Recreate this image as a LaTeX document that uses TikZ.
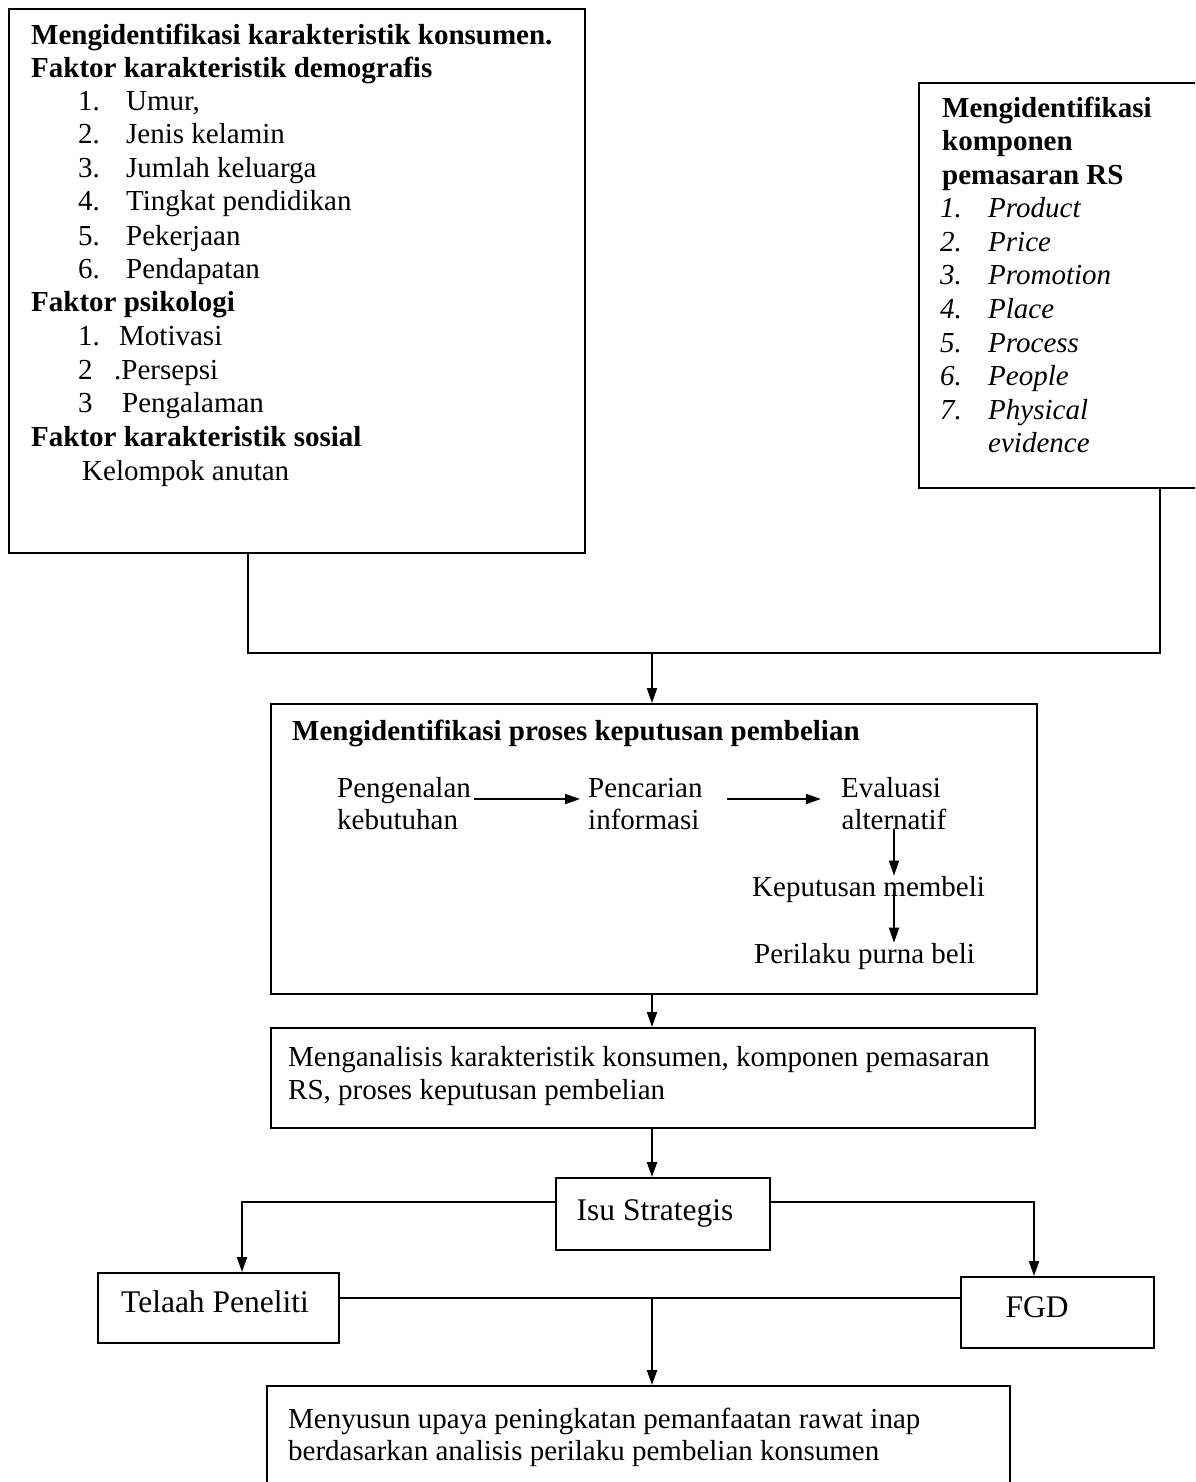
\documentclass[tikz,border=0pt]{standalone}
\usepackage{fontspec}
\setmainfont{Liberation Serif}
\usetikzlibrary{arrows.meta}
\newcommand\fs{\fontsize{29}{33.5}\selectfont}
\newcommand\fsb{\fontsize{31.5}{36}\selectfont}
\tikzset{
  box/.style={draw, line width=2pt, inner sep=0pt, anchor=north west},
  lbl/.style={anchor=base west, inner sep=0pt, font=\fs},
  clbl/.style={anchor=base, inner sep=0pt, font=\fs},
  blbl/.style={anchor=base, inner sep=0pt, font=\fsb},
  ln/.style={line width=2pt},
  arr/.style={line width=2pt, -{Triangle[length=15pt,width=10pt]}},
}
\begin{document}
\begin{tikzpicture}[x=1pt,y=-1pt]
\clip (0,0) rectangle (1195,1482);
\fill[white] (0,0) rectangle (1195,1482);

% boxes
\node[box, minimum width=576pt, minimum height=544pt] (b1) at (8,8) {};
\node[box, minimum width=282pt, minimum height=405pt] (b2) at (918,82) {};
\node[box, minimum width=766pt, minimum height=290pt] (b3) at (270,703) {};
\node[box, minimum width=764pt, minimum height=100pt] (b4) at (270,1027) {};
\node[box, minimum width=214pt, minimum height=72pt] (isu) at (555,1177) {};
\node[box, minimum width=241pt, minimum height=70pt] (tel) at (97,1272) {};
\node[box, minimum width=193pt, minimum height=71pt] (fgd) at (960,1276) {};
\node[box, minimum width=743pt, minimum height=120pt] (bot) at (266,1385) {};

% box 1 text
\node[lbl] (a1) at (31,45) {\textbf{Mengidentifikasi karakteristik konsumen.}};
\node[lbl] (a2) at (31,78) {\textbf{Faktor karakteristik demografis}};
\node[lbl] (a3n) at (78,111) {1.};  \node[lbl] (a3) at (126,111) {Umur,};
\node[lbl] (a4n) at (78,144) {2.};  \node[lbl] (a4) at (126,144) {Jenis kelamin};
\node[lbl] (a5n) at (78,178) {3.};  \node[lbl] (a5) at (126,178) {Jumlah keluarga};
\node[lbl] (a6n) at (78,211) {4.};  \node[lbl] (a6) at (126,211) {Tingkat pendidikan};
\node[lbl] (a7n) at (78,245) {5.};  \node[lbl] (a7) at (126,245) {Pekerjaan};
\node[lbl] (a8n) at (78,278) {6.};  \node[lbl] (a8) at (126,278) {Pendapatan};
\node[lbl] (a9) at (31,311) {\textbf{Faktor psikologi}};
\node[lbl] (a10n) at (78,345) {1.}; \node[lbl] (a10) at (119,345) {Motivasi};
\node[lbl] (a11n) at (78,379) {2};  \node[lbl] (a11) at (114,379) {.Persepsi};
\node[lbl] (a12n) at (78,412) {3};  \node[lbl] (a12) at (122,412) {Pengalaman};
\node[lbl] (a13) at (31,446) {\textbf{Faktor karakteristik sosial}};
\node[lbl] (a14) at (82,480) {Kelompok anutan};

% box 2 text
\node[lbl] (c1) at (942,118) {\textbf{Mengidentifikasi}};
\node[lbl] (c2) at (942,151) {\textbf{komponen}};
\node[lbl] (c3) at (942,185) {\textbf{pemasaran RS}};
\node[lbl] (c4n) at (940,217) {\textit{1.}};  \node[lbl] (c4) at (988,217) {\textit{Product}};
\node[lbl] (c5n) at (940,251) {\textit{2.}};  \node[lbl] (c5) at (988,251) {\textit{Price}};
\node[lbl] (c6n) at (940,284) {\textit{3.}};  \node[lbl] (c6) at (988,284) {\textit{Promotion}};
\node[lbl] (c7n) at (940,318) {\textit{4.}};  \node[lbl] (c7) at (988,318) {\textit{Place}};
\node[lbl] (c8n) at (940,352) {\textit{5.}};  \node[lbl] (c8) at (988,352) {\textit{Process}};
\node[lbl] (c9n) at (940,385) {\textit{6.}};  \node[lbl] (c9) at (988,385) {\textit{People}};
\node[lbl] (c10n) at (940,419) {\textit{7.}}; \node[lbl] (c10) at (988,419) {\textit{Physical}};
\node[lbl] (c11) at (988,452) {\textit{evidence}};

% box 3 text
\node[lbl] (t3) at (292,740) {\textbf{Mengidentifikasi proses keputusan pembelian}};
\node[lbl] (pk1) at (337,797) {Pengenalan};
\node[lbl] (pk2) at (337,829) {kebutuhan};
\node[lbl] (pc1) at (588,797) {Pencarian};
\node[lbl] (pc2) at (588,829) {informasi};
\node[clbl] (ev1) at (891,797) {Evaluasi};
\node[clbl] (ev2) at (894,829) {alternatif};
\node[lbl] (kp) at (752,896) {Keputusan membeli};
\node[lbl] (pp) at (754,963) {Perilaku purna beli};

\draw[arr] ([xshift=3pt,yshift=-2pt]pk1.base east) -- ([xshift=-8pt,yshift=-2pt]pc1.base west);
\draw[arr] ([xshift=27pt,yshift=-2pt]pc1.base east -| pc2.east) -- ([xshift=-20pt,yshift=-2pt]ev1.base west);
\draw[arr] (ev2.south) -- (ev2.south |- kp.north);
\draw[arr] (ev2.south |- kp.center) -- (ev2.south |- pp.north);

% box 4 text
\node[lbl] (d1) at (288,1066) {Menganalisis karakteristik konsumen, komponen pemasaran};
\node[lbl] (d2) at (288,1099) {RS, proses keputusan pembelian};

\node[blbl] (isut) at (655,1220) {Isu Strategis};
\node[blbl] (telt) at (215,1312) {Telaah Peneliti};
\node[blbl] (fgdt) at (1037,1317) {FGD};

\node[lbl] (e1) at (288,1428) {Menyusun upaya peningkatan pemanfaatan rawat inap};
\node[lbl] (e2) at (288,1460) {berdasarkan analisis perilaku pembelian konsumen};

% connectors
\coordinate (j1) at (248,653);
\coordinate (j2) at (1160,653);
\coordinate (jm) at (652,653);
\draw[ln] (b1.south -| j1) -- (j1) -- (j2) -- (b2.south -| j2);
\draw[arr] (jm) -- (b3.north -| jm);
\draw[arr] (b3.south -| jm) -- (b4.north -| jm);
\draw[arr] (b4.south -| jm) -- (isu.north -| jm);

\coordinate (tl) at (242,1202);
\coordinate (tr) at (1034,1202);
\draw[arr] (isu.west |- tl) -- (tl) -- (tl |- tel.north);
\draw[arr] (isu.east |- tr) -- (tr) -- (tr |- fgd.north);

\coordinate (jb) at (652,1298);
\draw[ln] (tel.east |- jb) -- (fgd.west |- jb);
\draw[arr] (jb) -- (jb |- bot.north);
\end{tikzpicture}
\end{document}
